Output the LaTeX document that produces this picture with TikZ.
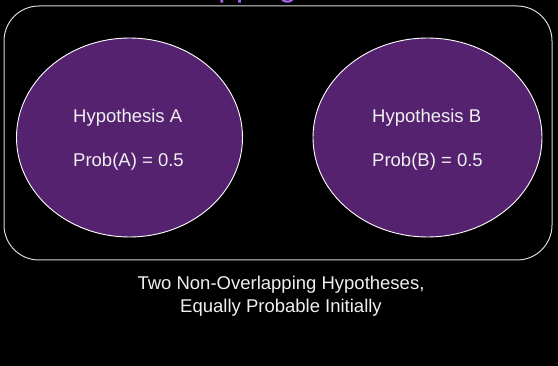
\documentclass[tikz,border=0pt]{standalone}
\usepackage{fontspec}
\setmainfont{Liberation Sans}
\usetikzlibrary{shapes.geometric}
\definecolor{hypfill}{RGB}{85,34,112}
\definecolor{titleviolet}{RGB}{170,100,240}
\definecolor{textwhite}{RGB}{240,240,240}
\definecolor{edgegray}{RGB}{215,215,215}
\tikzset{
  hypo/.style={ellipse, draw=white, line width=0.9pt, fill=hypfill, minimum width=226pt, minimum height=199pt, inner sep=0pt},
  lbl/.style={text=textwhite, font=\fontsize{18.5}{22}\selectfont, inner sep=0pt, anchor=base west},
  caption/.style={text=textwhite, font=\fontsize{18.5}{22}\selectfont, inner sep=0pt, anchor=base},
  frame/.style={draw=edgegray, line width=1pt, rounded corners=35pt}
}
\begin{document}
\begin{tikzpicture}[x=1pt,y=-1pt]
\useasboundingbox (0,0) rectangle (558,366);
\clip (0,0) rectangle (558,366);
\fill[black] (0,0) rectangle (558,366);
\node[text=titleviolet, font=\fontsize{32}{36}\selectfont, inner sep=0pt, anchor=base west] (title) at (124,-3) {Overlapping,};
\node[frame, minimum width=548pt, minimum height=254pt, inner sep=0pt] (box) at (278,133) {};
\node[hypo] (ea) at (129.5,137.5) {};
\node[hypo, minimum width=229pt] (eb) at (427.5,137.5) {};
\node[lbl] (ha) at (73,123) {Hypothesis A};
\node[lbl] (pa) at (73,167) {Prob(A) = 0.5};
\node[lbl] (hb) at (372,123) {Hypothesis B};
\node[lbl] (pb) at (372,167) {Prob(B) = 0.5};
\node[caption] (c1) at (281,290) {Two Non-Overlapping Hypotheses,};
\node[caption] (c2) at (281,313) {Equally Probable Initially};
\end{tikzpicture}
\end{document}
